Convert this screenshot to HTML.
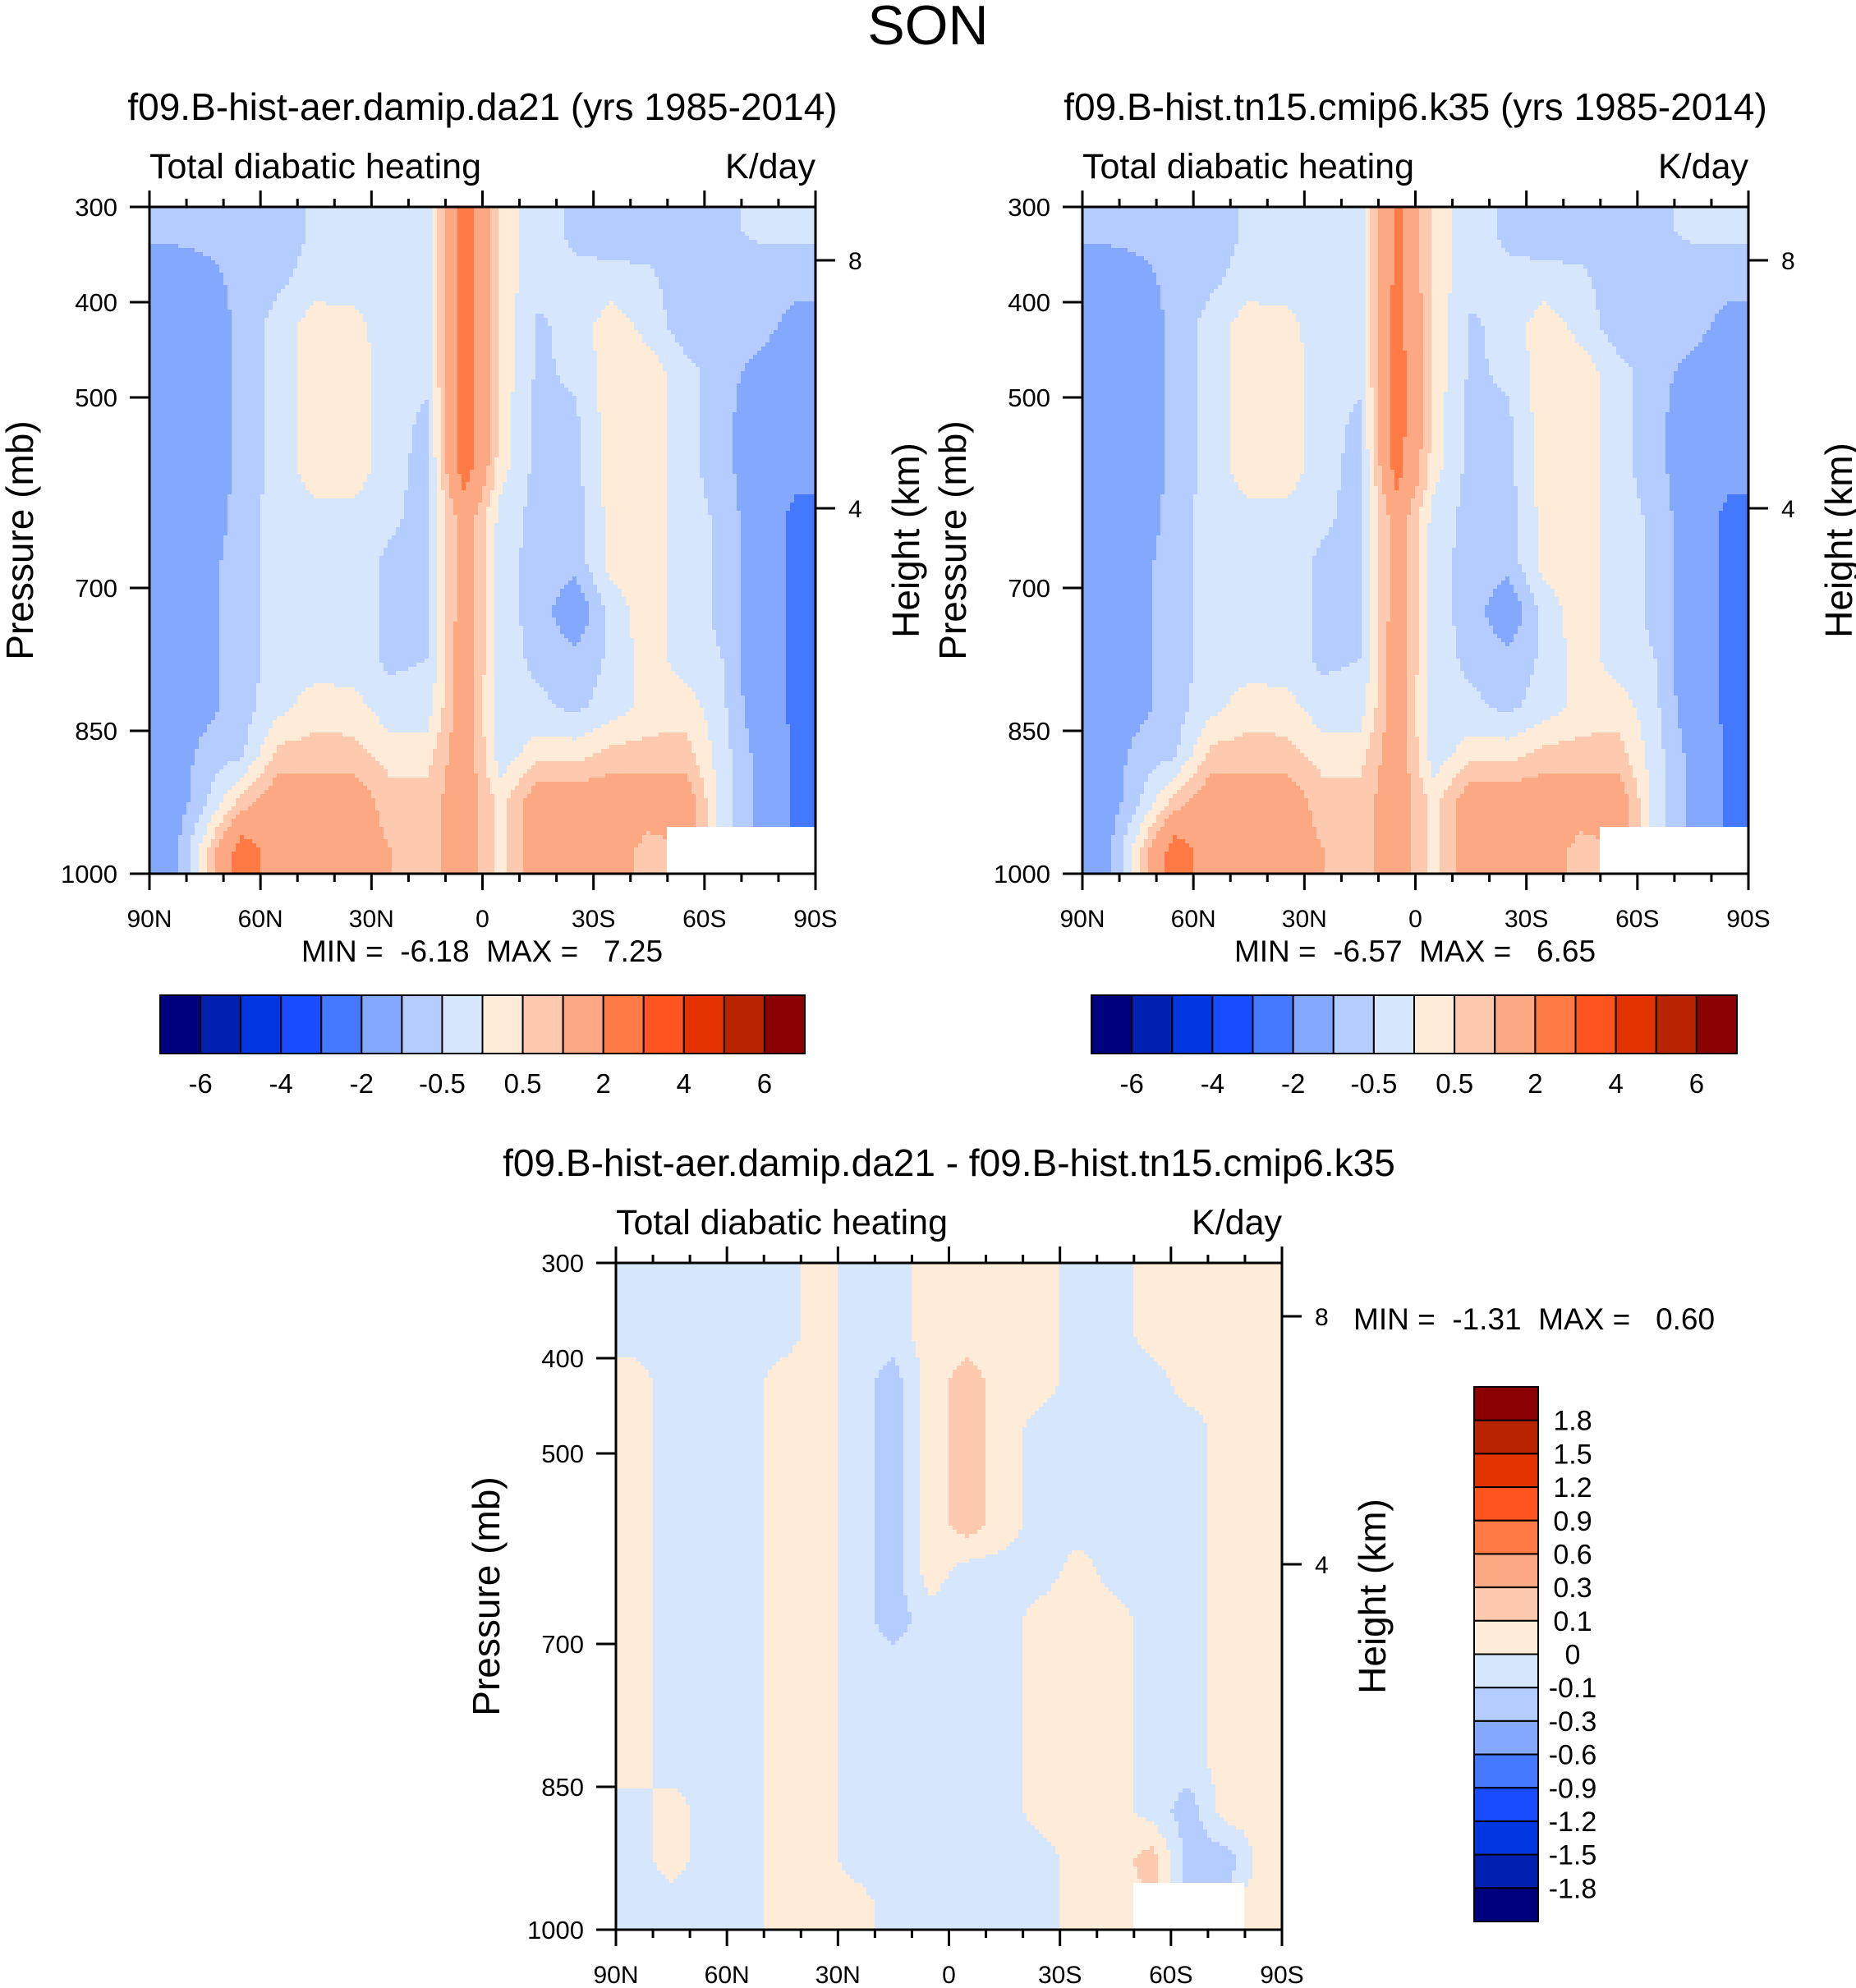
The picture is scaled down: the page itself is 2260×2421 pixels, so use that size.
<!DOCTYPE html>
<html><head><meta charset="utf-8">
<style>
html,body{margin:0;padding:0;background:#fff;}
body{width:2260px;height:2421px;overflow:hidden;font-family:"Liberation Sans",sans-serif;}
svg{position:absolute;left:0;top:0;}
.pre{white-space:pre;}
</style></head>
<body>
<svg id="fig" width="2260" height="2421" viewBox="0 0 2260 2421" xmlns="http://www.w3.org/2000/svg" font-family="Liberation Sans, sans-serif">
<text x="1130" y="54" font-size="68" text-anchor="middle">SON</text>
</svg>
<script>
// ---------- data ----------
const lats = [85,75,65,55,45,35,25,15,5,-5,-15,-25,-35,-45,-55,-65,-75,-85];
const levs = [325,375,425,475,525,575,625,675,725,775,825,875,925,975];
const absLevels = [-6,-5,-4,-3,-2,-1,-0.5,0,0.5,1,2,3,4,5,6];
const absLabels = ["-6","-4","-2","-0.5","0.5","2","4","6"];
const diffLevels = [-1.8,-1.5,-1.2,-0.9,-0.6,-0.3,-0.1,0,0.1,0.3,0.6,0.9,1.2,1.5,1.8];
const diffLabels = ["1.8","1.5","1.2","0.9","0.6","0.3","0.1","0","-0.1","-0.3","-0.6","-0.9","-1.2","-1.5","-1.8"];
const palette = ["#00007f","#0020b0","#0037e0","#1a4cff","#4479ff","#85a8ff","#b4ccff","#d6e7fd","#feebd8","#fdcab0","#fca882","#ff7a45","#ff5320","#e33400","#b82400","#8b0000"];
const field1 = [
[-0.8,-0.8,-0.8,-0.8,-0.4,-0.3,-0.3,-0.3,2.5,0.3,-0.3,-0.6,-0.8,-0.8,-0.8,-0.6,-0.4,-0.4],
[-1.5,-1.2,-0.8,-0.6,-0.3,-0.3,-0.3,-0.3,2.5,0.3,-0.3,-0.4,-0.3,-0.4,-0.8,-0.8,-0.8,-0.8],
[-1.5,-1.5,-0.8,-0.3,0.3,0.2,-0.3,-0.3,2.5,0.3,-0.6,-0.3,0.3,-0.2,-0.8,-0.8,-0.8,-1.2],
[-1.5,-1.5,-0.8,-0.3,0.3,0.3,-0.3,-0.4,2.5,0.3,-0.6,-0.4,0.3,0.3,-0.3,-0.8,-1.2,-1.5],
[-1.5,-1.5,-0.8,-0.3,0.3,0.3,-0.3,-0.6,2.5,0.3,-0.7,-0.6,0.3,0.3,-0.3,-0.8,-1.5,-1.5],
[-1.5,-1.5,-0.8,-0.3,0.3,0.3,-0.3,-0.7,2.5,0.2,-0.7,-0.7,0.3,0.3,-0.3,-0.8,-1.5,-1.8],
[-1.5,-1.5,-0.7,-0.3,-0.2,-0.2,-0.4,-0.7,1.5,-0.2,-0.7,-0.7,0.2,0.3,-0.3,-0.6,-1.5,-2.2],
[-1.5,-1.2,-0.7,-0.3,-0.3,-0.3,-0.6,-0.7,1.5,-0.3,-0.7,-0.8,0.2,0.3,-0.3,-0.6,-1.5,-2.2],
[-1.5,-1.2,-0.7,-0.3,-0.3,-0.3,-0.6,-0.7,1.5,-0.3,-0.7,-1.5,-0.3,0.3,-0.3,-0.6,-1.5,-2.2],
[-1.5,-1.2,-0.7,-0.3,-0.3,-0.3,-0.6,-0.5,1.5,-0.3,-0.6,-0.8,-0.4,0.3,-0.3,-0.5,-1.5,-2.2],
[-1.5,-1.2,-0.7,-0.2,0.3,0.2,-0.3,-0.3,1.5,-0.4,-0.4,-0.6,-0.3,0.2,0.3,-0.4,-1.5,-2.2],
[-1.5,-0.8,-0.6,0.7,0.7,0.7,0.3,0.3,1.5,-0.3,0.3,0.3,0.7,0.7,0.7,-0.3,-1.2,-2.2],
[-1.5,-0.6,0.7,1.5,1.5,1.5,0.7,0.7,1.5,0.3,1.5,1.5,1.5,1.5,1.5,-0.3,-1.2,-2.2],
[-1.5,0.3,2.5,1.5,1.5,1.5,1.0,0.7,1.5,0.3,1.5,1.5,1.5,0.7,null,null,null,null]];
const field2 = [
[-0.8,-0.8,-0.8,-0.8,-0.4,-0.3,-0.3,-0.3,2.2,0.3,-0.3,-0.6,-0.8,-0.8,-0.8,-0.6,-0.4,-0.4],
[-1.5,-1.2,-0.8,-0.6,-0.3,-0.3,-0.3,-0.3,2.3,0.3,-0.3,-0.4,-0.3,-0.4,-0.8,-0.8,-0.8,-0.8],
[-1.5,-1.5,-0.8,-0.3,0.3,0.2,-0.3,-0.3,2.4,0.3,-0.6,-0.3,0.3,-0.2,-0.8,-0.8,-0.8,-1.2],
[-1.5,-1.5,-0.8,-0.3,0.3,0.3,-0.3,-0.4,2.5,0.3,-0.6,-0.4,0.3,0.3,-0.3,-0.8,-1.2,-1.5],
[-1.5,-1.5,-0.8,-0.3,0.3,0.3,-0.3,-0.6,2.5,0.3,-0.7,-0.6,0.3,0.3,-0.3,-0.8,-1.5,-1.5],
[-1.5,-1.5,-0.8,-0.3,0.3,0.3,-0.3,-0.7,2.4,0.2,-0.7,-0.7,0.3,0.3,-0.3,-0.8,-1.5,-1.8],
[-1.5,-1.5,-0.7,-0.3,-0.2,-0.2,-0.4,-0.7,1.5,-0.2,-0.7,-0.7,0.2,0.3,-0.3,-0.6,-1.5,-2.2],
[-1.5,-1.2,-0.7,-0.3,-0.3,-0.3,-0.6,-0.7,1.5,-0.3,-0.7,-0.8,0.2,0.3,-0.3,-0.6,-1.5,-2.2],
[-1.5,-1.2,-0.7,-0.3,-0.3,-0.3,-0.6,-0.7,1.5,-0.3,-0.7,-1.5,-0.3,0.3,-0.3,-0.6,-1.5,-2.2],
[-1.5,-1.2,-0.7,-0.3,-0.3,-0.3,-0.6,-0.5,1.5,-0.3,-0.6,-0.8,-0.4,0.3,-0.3,-0.5,-1.5,-2.2],
[-1.5,-1.2,-0.7,-0.2,0.3,0.2,-0.3,-0.3,1.5,-0.4,-0.4,-0.6,-0.3,0.2,0.3,-0.4,-1.5,-2.2],
[-1.5,-0.8,-0.6,0.7,0.7,0.7,0.3,0.3,1.5,-0.3,0.3,0.3,0.7,0.7,0.7,-0.3,-1.2,-2.2],
[-1.5,-0.6,0.7,1.5,1.5,1.5,0.7,0.7,1.5,0.3,1.5,1.5,1.5,1.5,1.5,-0.3,-1.2,-2.2],
[-1.5,0.3,2.5,1.5,1.5,1.5,1.0,0.7,1.5,0.3,1.5,1.5,1.5,0.7,null,null,null,null]];
const field3 = [
[-0.05,-0.05,-0.05,-0.05,-0.05,0.05,-0.05,-0.05,0.05,0.05,0.05,0.05,-0.05,-0.05,0.05,0.05,0.05,0.05],
[-0.05,-0.05,-0.05,-0.05,-0.05,0.05,-0.05,-0.05,0.05,0.05,0.05,0.05,-0.05,-0.05,0.05,0.05,0.05,0.05],
[0.05,-0.05,-0.05,-0.05,0.05,0.05,-0.05,-0.15,0.05,0.15,0.05,0.05,-0.05,-0.05,-0.05,0.05,0.05,0.05],
[0.05,-0.05,-0.05,-0.05,0.05,0.05,-0.05,-0.15,0.05,0.15,0.05,-0.05,-0.05,-0.05,-0.05,-0.05,0.05,0.05],
[0.05,-0.05,-0.05,-0.05,0.05,0.05,-0.05,-0.15,0.05,0.15,0.05,-0.05,-0.05,-0.05,-0.05,-0.05,0.05,0.05],
[0.05,-0.05,-0.05,-0.05,0.05,0.05,-0.05,-0.15,0.05,0.15,0.05,-0.05,-0.05,-0.05,-0.05,-0.05,0.05,0.05],
[0.05,-0.05,-0.05,-0.05,0.05,0.05,-0.05,-0.15,0.05,-0.05,-0.05,-0.05,0.05,-0.05,-0.05,-0.05,0.05,0.05],
[0.05,-0.05,-0.05,-0.05,0.05,0.05,-0.05,-0.15,-0.05,-0.05,-0.05,0.05,0.05,0.05,-0.05,-0.05,0.05,0.05],
[0.05,-0.05,-0.05,-0.05,0.05,0.05,-0.05,-0.05,-0.05,-0.05,-0.05,0.05,0.05,0.05,-0.05,-0.05,0.05,0.05],
[0.05,-0.05,-0.05,-0.05,0.05,0.05,-0.05,-0.05,-0.05,-0.05,-0.05,0.05,0.05,0.05,-0.05,-0.05,0.05,0.05],
[0.05,-0.05,-0.05,-0.05,0.05,0.05,-0.05,-0.05,-0.05,-0.05,-0.05,0.05,0.05,0.05,-0.05,-0.05,0.05,0.05],
[-0.05,0.05,-0.05,-0.05,0.05,0.05,-0.05,-0.05,-0.05,-0.05,-0.05,0.05,0.05,0.05,-0.05,-0.15,0.05,0.05],
[-0.05,0.05,-0.05,-0.05,0.05,0.05,-0.05,-0.05,-0.05,-0.05,-0.05,-0.05,0.05,0.05,0.15,-0.15,-0.15,0.05],
[-0.05,-0.05,-0.05,-0.05,0.05,0.05,0.05,-0.05,-0.05,-0.05,-0.05,-0.05,0.05,0.05,null,null,null,0.05]];
const minmax1 = ["-6.18","7.25"], minmax2 = ["-6.57","6.65"], minmax3 = ["-1.31","0.60"];
const latTickVals = [90,60,30,0,-30,-60,-90];
const latTickLabels = ["90N","60N","30N","0","30S","60S","90S"];
const presTicks = [300,400,500,700,850,1000];
const heightTicks = [8,4];

// ---------- rendering ----------
const NS = "http://www.w3.org/2000/svg";
const svg = document.getElementById('fig');
function mk(tag, attrs, parent, txt){
  const e = document.createElementNS(NS, tag);
  for (const k in attrs) e.setAttribute(k, attrs[k]);
  if (txt !== undefined) e.textContent = txt;
  (parent || svg).appendChild(e);
  return e;
}
function classify(v, levels){ let i=0; while(i<levels.length && v>=levels[i]) i++; return palette[i]; }
function stdPressure(zkm){ return 1013.25*Math.pow(1-2.25577e-5*zkm*1000, 5.25588); }

function panel(P){
  const {x0,y0,w,h,field,levels,name} = P;
  const g = mk('g',{});
  
  
  const xOf = lat => x0 + (90-lat)/180*w;
  const yOf = p => y0 + (p-300)/700*h;
  const nC = lats.length, nR = levs.length;
  const cell = 5;
  const cg = mk('g',{}, g);
  
  
  function val(px, py){
    const lat = 90 - (px-x0)/w*180;
    const fi = Math.min(nC-1, Math.max(0, (lat - lats[0]) / (lats[1]-lats[0])));
    const pres = 300 + (py-y0)/h*700;
    const fj = Math.min(nR-1, Math.max(0, (pres - levs[0])/(levs[1]-levs[0])));
    const i0 = Math.floor(fi), j0 = Math.floor(fj);
    const i1 = Math.min(nC-1,i0+1), j1 = Math.min(nR-1,j0+1);
    const ni = Math.round(fi), nj = Math.round(fj);
    if (field[nj][ni] === null) return null;
    const a=fi-i0, b=fj-j0;
    const pts=[[i0,j0,(1-a)*(1-b)],[i1,j0,a*(1-b)],[i0,j1,(1-a)*b],[i1,j1,a*b]];
    let s=0, ws=0;
    for (const [i,j,wt] of pts){ const v=field[j][i]; if(v!==null){s+=v*wt; ws+=wt;} }
    return ws>0 ? s/ws : null;
  }
  function flush(xs, xe, py, hh, col){
    const r = mk('rect',{x:xs,y:py,width:xe-xs+0.6,height:hh+0.6,fill:col}, cg);
    
    
  }
  for (let py=y0; py<y0+h; py+=cell){
    const hh = Math.min(cell, y0+h-py);
    let runStart = x0, runCol = null;
    for (let px=x0; px<x0+w; px+=cell){
      const cw = Math.min(cell, x0+w-px);
      const v = val(px+cw/2, py+hh/2);
      const col = v===null ? '#ffffff' : classify(v, levels);
      if (col !== runCol){
        if (runCol !== null) flush(runStart, px, py, hh, runCol);
        runStart = px; runCol = col;
      }
    }
    if (runCol !== null) flush(runStart, x0+w, py, hh, runCol);
  }
  const fr = mk('rect',{x:x0,y:y0,width:w,height:h,fill:'none',stroke:'#000','stroke-width':3}, g);
  
  
  for (let lat=-90; lat<=90; lat+=10){
    const major = latTickVals.indexOf(lat) >= 0;
    const L = major ? 20 : 10;
    mk('line',{x1:xOf(lat),x2:xOf(lat),y1:y0,y2:y0-L,stroke:'#000','stroke-width':3}, g);
    mk('line',{x1:xOf(lat),x2:xOf(lat),y1:y0+h,y2:y0+h+L,stroke:'#000','stroke-width':3}, g);
  }
  latTickLabels.forEach((lb,k)=>{
    const t = mk('text',{x:xOf(latTickVals[k]),y:y0+h+65,'font-size':30,'text-anchor':'middle'}, g, lb);
    
    
  });
  presTicks.forEach(p=>{
    mk('line',{x1:x0,x2:x0-24,y1:yOf(p),y2:yOf(p),stroke:'#000','stroke-width':3}, g);
    const t = mk('text',{x:x0-39,y:yOf(p)+11,'font-size':31,'text-anchor':'end'}, g, String(p));
    
    
  });
  heightTicks.forEach(z=>{
    const p = stdPressure(z);
    mk('line',{x1:x0+w,x2:x0+w+24,y1:yOf(p),y2:yOf(p),stroke:'#000','stroke-width':3}, g);
    const t = mk('text',{x:x0+w+40,y:yOf(p)+11,'font-size':30}, g, String(z));
    
    
  });
  const yl = mk('text',{x:0,y:0,'font-size':46,'text-anchor':'middle',transform:`translate(${x0-142},${y0+h/2}) rotate(-90)`}, g, 'Pressure (mb)');
  
  
  const yr = mk('text',{x:0,y:0,'font-size':46,'text-anchor':'middle',transform:`translate(${x0+w+126},${y0+h/2}) rotate(-90)`}, g, 'Height (km)');
  
  
  const ls = mk('text',{x:x0,y:y0-35,'font-size':43}, g, 'Total diabatic heating');
  
  
  const rs = mk('text',{x:x0+w,y:y0-35,'font-size':43,'text-anchor':'end'}, g, 'K/day');
  
  
  const tt = mk('text',{x:x0+w/2,y:y0-106,'font-size':46,'text-anchor':'middle'}, g, P.title);
  
  
}

function hbar(x0,y0,w,h,levels,labels){
  const g = mk('g',{});
  
  
  const n = levels.length+1, bw = w/n;
  for (let i=0;i<n;i++){
    const r = mk('rect',{x:x0+i*bw,y:y0,width:bw,height:h,fill:palette[i],stroke:'#000','stroke-width':2}, g);
    
    
  }
  labels.forEach((lb,k)=>{
    const t = mk('text',{x:x0+(2*k+1)*bw,y:y0+h+48,'font-size':33,'text-anchor':'middle'}, g, lb);
    
    
  });
}
function vbar(x0,y0,w,h,levels,labels){
  const g = mk('g',{});
  
  
  const n = levels.length+1, bh = h/n;
  for (let i=0;i<n;i++){
    const r = mk('rect',{x:x0,y:y0+i*bh,width:w,height:bh,fill:palette[n-1-i],stroke:'#000','stroke-width':2}, g);
    
    
  }
  labels.forEach((lb,k)=>{
    const t = mk('text',{x:x0+w+42,y:y0+(k+1)*bh+12,'font-size':34,'text-anchor':'middle'}, g, lb);
    
    
  });
}
function mm(x,y,v,anchor){
  const t = mk('text',{x:x,y:y,'font-size':37,'text-anchor':anchor,'class':'pre'}, svg, `MIN =  ${v[0]}  MAX =   ${v[1]}`);
  
  
}

panel({x0:182,y0:252,w:811,h:812,field:field1,levels:absLevels,name:'panel-aer',title:'f09.B-hist-aer.damip.da21 (yrs 1985-2014)'});
panel({x0:1318,y0:252,w:811,h:812,field:field2,levels:absLevels,name:'panel-hist',title:'f09.B-hist.tn15.cmip6.k35 (yrs 1985-2014)'});
panel({x0:750,y0:1538,w:811,h:812,field:field3,levels:diffLevels,name:'panel-diff',title:'f09.B-hist-aer.damip.da21 - f09.B-hist.tn15.cmip6.k35'});
mm(587,1171,minmax1,'middle');
mm(1723,1171,minmax2,'middle');
mm(1648,1619,minmax3,'start');
hbar(195,1212,785,71,absLevels,absLabels);
hbar(1329,1212,786,71,absLevels,absLabels);
vbar(1795,1689,78,651,diffLevels,diffLabels);
</script>
</body></html>
